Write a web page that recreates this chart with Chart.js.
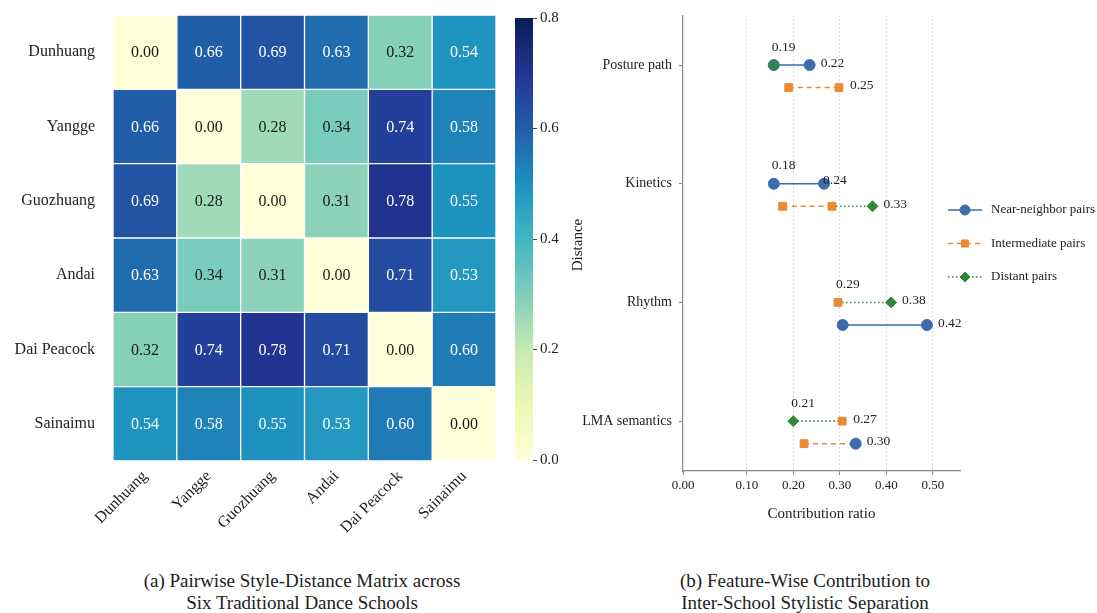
<!DOCTYPE html>
<html><head><meta charset="utf-8">
<script src="https://cdn.jsdelivr.net/npm/chart.js@4.4.1/dist/chart.umd.min.js"></script>
<style>
html,body{margin:0;padding:0;background:#fff;width:1097px;height:613px;overflow:hidden;font-family:"Liberation Serif",serif;}
.c{position:absolute;}
.cap{position:absolute;text-align:center;font-size:19px;line-height:22px;color:#222;white-space:nowrap;}
</style></head><body>
<div class="c" style="left:0;top:0;width:505px;height:540px"><canvas id="hm"></canvas></div>
<div class="c" style="left:505px;top:0;width:95px;height:480px"><canvas id="cb"></canvas></div>
<div class="c" style="left:570px;top:0;width:527px;height:525px"><canvas id="db"></canvas></div>
<div class="cap" style="left:0;top:570px;width:604px">(a) Pairwise Style-Distance Matrix across<br>Six Traditional Dance Schools</div>
<div class="cap" style="left:560px;top:570px;width:490px">(b) Feature-Wise Contribution to<br>Inter-School Stylistic Separation</div>
<script>
// ---------- data ----------
const schools = ['Dunhuang','Yangge','Guozhuang','Andai','Dai Peacock','Sainaimu'];
const distRows = [
  [0.00,0.66,0.69,0.63,0.32,0.54],
  [0.66,0.00,0.28,0.34,0.74,0.58],
  [0.69,0.28,0.00,0.31,0.78,0.55],
  [0.63,0.34,0.31,0.00,0.71,0.53],
  [0.32,0.74,0.78,0.71,0.00,0.60],
  [0.54,0.58,0.55,0.53,0.60,0.00]
];
const colorbarTicks = [0.0,0.2,0.4,0.6,0.8];

const features = ['Posture path','Kinetics','Rhythm','LMA semantics'];
const contribTickLabels = ['0.00','0.10','0.20','0.30','0.40','0.50'];
const contribTickValues = [-0.037,0.10,0.20,0.30,0.40,0.50];
const seriesNames = ['Near-neighbor pairs','Intermediate pairs','Distant pairs'];
// markers: [feature, lane, x]
const nearPoints = [[0,0,0.158],[0,0,0.235],[1,0,0.158],[1,0,0.266],[2,1,0.306],[2,1,0.487],[3,1,0.334]];
const interPoints = [[0,1,0.190],[0,1,0.298],[1,1,0.177],[1,1,0.283],[2,0,0.296],[3,0,0.305],[3,1,0.223]];
const distantPoints = [[0,0,0.158],[1,1,0.370],[2,0,0.410],[3,0,0.200]];
// connectors: [feature, lane, x1, x2]
const nearLinks = [[0,0,0.158,0.235],[1,0,0.158,0.266],[2,1,0.306,0.487]];
const interLinks = [[0,1,0.190,0.298],[1,1,0.177,0.283],[3,1,0.223,0.334]];
const distantLinks = [[1,1,0.283,0.370],[2,0,0.296,0.410],[3,0,0.200,0.305]];
// value labels: [text, feature, lane, x, side]
const valueLabels = [
  ['0.19',0,0,0.158,'above'],['0.22',0,0,0.235,'right'],['0.25',0,1,0.298,'right'],
  ['0.18',1,0,0.158,'above'],['0.24',1,0,0.266,'on'],['0.33',1,1,0.370,'right'],
  ['0.29',2,0,0.296,'above'],['0.38',2,0,0.410,'right'],['0.42',2,1,0.487,'right'],
  ['0.21',3,0,0.200,'above'],['0.27',3,0,0.305,'right'],['0.30',3,1,0.334,'right']
];

// ---------- helpers ----------
Chart.defaults.font.family = '"Liberation Serif", "Times New Roman", serif';
Chart.defaults.color = '#222';
const YLGNBU = ['#ffffd9','#edf8b1','#c7e9b4','#7fcdbb','#41b6c4','#1d91c0','#225ea8','#253494','#081d58'];
function hex(h){return [parseInt(h.slice(1,3),16),parseInt(h.slice(3,5),16),parseInt(h.slice(5,7),16)];}
function cmap(t){
  t=Math.max(0,Math.min(1,t)); const n=YLGNBU.length-1;
  const i=Math.min(n-1,Math.floor(t*n)); const f=t*n-i;
  const a=hex(YLGNBU[i]), b=hex(YLGNBU[i+1]);
  return 'rgb('+a.map((v,k)=>Math.round(v+(b[k]-v)*f)).join(',')+')';
}
const VMAX = colorbarTicks[colorbarTicks.length-1];
const CELL_NORM = 0.88; // cells in the picture render a bit lighter than the bar

// ---------- heatmap ----------
const cellText = {
  id:'cellText',
  afterDatasetsDraw(chart){
    const ctx=chart.ctx; ctx.save();
    ctx.font='16px "Liberation Serif", serif'; ctx.textAlign='center'; ctx.textBaseline='middle';
    chart.data.datasets.forEach((ds,r)=>{
      chart.getDatasetMeta(r).data.forEach((bar,c)=>{
        const v=distRows[r][c];
        ctx.fillStyle = v>0.45 ? '#ffffff' : '#1a1a1a';
        ctx.fillText(v.toFixed(2), bar.x, (bar.y+bar.base)/2+1);
      });
    });
    ctx.restore();
  }
};
new Chart(document.getElementById('hm'),{
  type:'bar',
  data:{
    labels:schools,
    datasets:distRows.map((row,r)=>({
      data:row.map(()=>[r,r+1]),
      backgroundColor:row.map(v=>cmap(v/CELL_NORM)),
      borderColor:'#ffffff', borderWidth:1, borderSkipped:false,
      grouped:false, categoryPercentage:1, barPercentage:1
    }))
  },
  options:{
    responsive:true, maintainAspectRatio:false, animation:false,
    layout:{padding:{top:15,right:9,left:0,bottom:0}},
    plugins:{legend:{display:false},tooltip:{enabled:false}},
    scales:{
      x:{type:'category', offset:true, grid:{display:false,drawTicks:false}, border:{display:false},
         ticks:{minRotation:45,maxRotation:45,font:{size:16},color:'#222',padding:6},
         afterFit:s=>{s.height=79;}},
      y:{type:'linear', min:0, max:schools.length, reverse:true,
         grid:{display:false,drawTicks:true,tickLength:16}, border:{display:false},
         afterBuildTicks:s=>{s.ticks=schools.map((n,i)=>({value:i+0.5}));},
         ticks:{callback:(v,i)=>schools[i], font:{size:16}, color:'#222', padding:2},
         afterFit:s=>{s.width=113;}}
    }
  },
  plugins:[cellText]
});

// ---------- colorbar ----------
const cbTitle = {
  id:'cbTitle',
  afterDraw(chart){
    const ctx=chart.ctx; ctx.save();
    ctx.translate(73,245); ctx.rotate(-Math.PI/2);
    ctx.font='15px "Liberation Serif", serif'; ctx.fillStyle='#222';
    ctx.textAlign='center'; ctx.textBaseline='middle';
    ctx.fillText('Distance',0,0); ctx.restore();
  }
};
new Chart(document.getElementById('cb'),{
  type:'bar',
  data:{labels:['d'],datasets:[{
    data:[[colorbarTicks[0],VMAX]],
    backgroundColor:(c)=>{
      const a=c.chart.chartArea; if(!a) return '#ccc';
      const g=c.chart.ctx.createLinearGradient(0,a.bottom,0,a.top);
      YLGNBU.forEach((col,i)=>g.addColorStop(i/(YLGNBU.length-1),col));
      return g;
    },
    borderWidth:0, categoryPercentage:1, barPercentage:1
  }]},
  options:{
    responsive:true, maintainAspectRatio:false, animation:false,
    layout:{padding:{left:10,top:18,bottom:20,right:0}},
    plugins:{legend:{display:false},tooltip:{enabled:false}},
    scales:{
      x:{display:false},
      y:{position:'right', min:colorbarTicks[0], max:VMAX,
         afterBuildTicks:s=>{s.ticks=colorbarTicks.map(v=>({value:v}));},
         ticks:{callback:v=>v.toFixed(1), font:{size:15}, color:'#222', padding:3},
         grid:{drawOnChartArea:false, drawTicks:true, tickLength:4, color:'#444'},
         border:{display:false},
         afterFit:s=>{s.width=67;}}
    }
  },
  plugins:[cbTitle]
});

// ---------- dumbbell ----------
const LANE = 0.19;
const COLORS = ['#3a6cae','#ec8a33','#32883a'];
const DASHES = [[],[5,4],[1.5,2.5]];
const STYLES = ['circle','rect','rectRot'];
const RADII = [5.5,5.5,5.5];
const laneY = (f,l)=>f+l*LANE;
const datasets = [];
[nearLinks,interLinks,distantLinks].forEach((links,s)=>{
  links.forEach(([f,l,x1,x2])=>datasets.push({
    data:[{x:x1,y:laneY(f,l)},{x:x2,y:laneY(f,l)}], showLine:true, pointRadius:0,
    borderColor:COLORS[s], borderWidth:1.6, borderDash:DASHES[s], order:10
  }));
});
[nearPoints,interPoints,distantPoints].forEach((pts,s)=>{
  datasets.push({
    data:pts.map(([f,l,x])=>({x:x,y:laneY(f,l)})), showLine:false,
    pointStyle:STYLES[s], pointRadius:RADII[s], pointBackgroundColor:COLORS[s],
    pointBorderColor:COLORS[s], pointBorderWidth:1, order:3-s
  });
});
const XMIN = contribTickValues[0];
const annot = {
  id:'annot',
  afterDatasetsDraw(chart){
    const ctx=chart.ctx, xs=chart.scales.x, ys=chart.scales.y;
    ctx.save(); ctx.font='13.5px "Liberation Serif", serif'; ctx.fillStyle='#222';
    ctx.textBaseline='middle'; ctx.textAlign='left';
    valueLabels.forEach(([t,f,l,x,side])=>{
      const px=xs.getPixelForValue(x), py=ys.getPixelForValue(laneY(f,l));
      if(side==='above') ctx.fillText(t,px-2,py-18);
      else if(side==='on') ctx.fillText(t,px-1,py-3);
      else ctx.fillText(t,px+11,py-2);
    });
    ctx.restore();
  },
  afterDraw(chart){
    const ctx=chart.ctx; ctx.save();
    ctx.font='13px "Liberation Serif", serif';
    seriesNames.forEach((name,s)=>{
      const y=210+s*33.5;
      ctx.strokeStyle=COLORS[s]; ctx.lineWidth=1.6; ctx.setLineDash(DASHES[s]);
      ctx.beginPath(); ctx.moveTo(378,y); ctx.lineTo(412,y); ctx.stroke();
      ctx.setLineDash([]);
      ctx.fillStyle=COLORS[s]; ctx.strokeStyle=COLORS[s]; ctx.lineWidth=1;
      Chart.helpers.drawPoint(ctx,{pointStyle:STYLES[s],radius:5,borderWidth:1},395,y);
      ctx.fillStyle='#222'; ctx.textAlign='left'; ctx.textBaseline='middle';
      ctx.fillText(name,421,y);
    });
    ctx.restore();
  }
};
new Chart(document.getElementById('db'),{
  type:'scatter',
  data:{datasets},
  options:{
    responsive:true, maintainAspectRatio:false, animation:false,
    layout:{padding:{top:13,right:137,left:0,bottom:0}},
    plugins:{legend:{display:false},tooltip:{enabled:false}},
    scales:{
      x:{type:'linear', min:XMIN, max:0.558,
         afterBuildTicks:s=>{s.ticks=contribTickValues.map(v=>({value:v}));},
         ticks:{callback:(v,i)=>contribTickLabels[i], font:{size:13}, color:'#222', padding:3},
         grid:{color:c=>c.index===0?'rgba(0,0,0,0)':'#cfcfcf', lineWidth:1, drawTicks:true, tickLength:4, tickColor:'#888'},
         border:{display:true,color:'#888',width:1.2,dash:[1.5,2.5]},
         title:{display:true,text:'Contribution ratio',font:{size:15},color:'#222',padding:{top:4,bottom:2}},
         afterFit:s=>{s.height=54;}},
      y:{type:'linear', min:-0.418, max:3.42, reverse:true,
         afterBuildTicks:s=>{s.ticks=features.map((f,i)=>({value:i}));},
         ticks:{callback:(v,i)=>features[i], font:{size:14}, color:'#222', padding:7},
         grid:{drawOnChartArea:false, drawTicks:true, tickLength:4, tickColor:'#888'},
         border:{display:true,color:'#888',width:1.2},
         afterFit:s=>{s.width=113;}}
    }
  },
  plugins:[annot]
});
</script>
</body></html>
